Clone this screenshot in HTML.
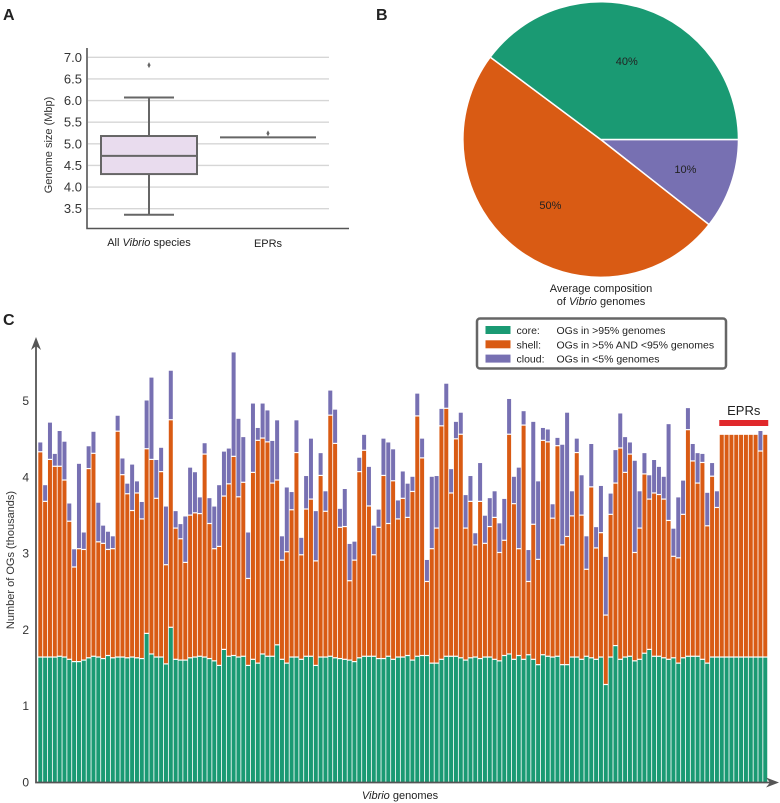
<!DOCTYPE html>
<html><head><meta charset="utf-8"><style>
html,body{margin:0;padding:0;background:#fff;}
svg{display:block;font-family:"Liberation Sans",Arial,sans-serif;}
</style></head><body>
<svg id="fig" width="780" height="803" viewBox="0 0 780 803" xmlns="http://www.w3.org/2000/svg">
<text x="3" y="20" font-size="16" font-weight="bold" fill="#222">A</text>
<text x="376" y="20" font-size="16" font-weight="bold" fill="#222">B</text>
<text x="3" y="325" font-size="16" font-weight="bold" fill="#222">C</text>
<g id="boxA"></g>
<g id="pieB"></g>
<g id="barC"></g>
</svg>
<script>
// ---------- Panel A data ----------
const boxCategories = ["All Vibrio species", "EPRs"];
const boxQ1 = [4.30, 5.15];
const boxMedian = [4.72, 5.15];
const boxQ3 = [5.18, 5.15];
const boxWhiskerLow = [3.36, 5.15];
const boxWhiskerHigh = [6.07, 5.15];
const boxOutliers = [[6.82], [5.24]];
const boxTicks = ["3.5","4.0","4.5","5.0","5.5","6.0","6.5","7.0"];

// ---------- Panel B data ----------
const pieLabels = ["cloud", "shell", "core"];
const pieValues = [10.6, 49.6, 39.8];
const pieText = ["10%", "50%", "40%"];

// ---------- Panel C data (thousands of OGs) ----------
const coreK = [1.63,1.63,1.63,1.63,1.64,1.63,1.60,1.57,1.57,1.59,
1.62,1.64,1.63,1.61,1.65,1.62,1.63,1.63,1.62,1.63,
1.62,1.61,1.94,1.67,1.63,1.63,1.54,2.02,1.60,1.59,
1.59,1.62,1.63,1.64,1.63,1.61,1.58,1.52,1.73,1.64,
1.65,1.63,1.64,1.52,1.60,1.55,1.67,1.64,1.64,1.79,
1.60,1.55,1.63,1.63,1.60,1.64,1.64,1.52,1.63,1.63,
1.64,1.62,1.61,1.60,1.59,1.57,1.62,1.64,1.64,1.64,
1.61,1.61,1.64,1.60,1.63,1.63,1.65,1.59,1.64,1.65,
1.65,1.55,1.55,1.60,1.64,1.64,1.64,1.62,1.59,1.62,
1.63,1.61,1.63,1.63,1.60,1.58,1.65,1.67,1.60,1.65,
1.60,1.66,1.60,1.53,1.66,1.64,1.63,1.64,1.53,1.53,
1.63,1.63,1.60,1.64,1.62,1.60,1.63,1.27,1.63,1.78,
1.60,1.63,1.64,1.58,1.60,1.68,1.73,1.64,1.64,1.62,
1.60,1.62,1.55,1.62,1.64,1.64,1.64,1.60,1.55,1.63,1.63,
1.63,1.63,1.63,1.63,1.63,1.63,1.63,1.63,1.63,1.63];
const coreShellK = [4.32,3.67,4.22,4.13,4.13,3.95,3.41,2.81,3.05,3.04,4.10,4.30,3.14,3.12,3.04,3.05,4.59,4.02,3.77,3.55,3.78,3.44,4.36,4.22,3.71,4.06,2.84,4.74,3.32,3.18,2.87,3.49,3.52,3.51,4.29,3.38,3.05,3.08,
3.74,3.90,4.26,3.73,3.92,2.66,4.05,4.47,4.50,4.45,3.91,3.95,2.90,3.01,3.56,4.31,2.97,3.57,3.70,2.89,4.01,3.54,4.80,4.43,3.33,3.34,2.63,2.90,4.06,4.34,3.61,2.97,3.33,4.01,3.38,3.94,3.44,3.71,
3.46,3.80,4.79,4.24,2.62,3.05,3.32,4.66,4.89,3.78,4.49,4.55,3.32,3.67,3.10,3.67,3.12,3.34,3.46,3.00,3.16,4.55,3.64,3.05,4.67,2.62,3.37,2.91,4.47,4.45,3.45,4.40,3.10,3.21,3.48,4.31,3.49,2.78,
3.86,3.06,3.26,2.18,3.50,3.91,4.37,4.05,4.29,3.00,3.32,4.03,3.70,3.78,3.76,3.70,3.42,2.95,2.93,3.50,4.61,4.20,3.91,4.18,3.35,4.00,3.59,
4.55,4.55,4.55,4.55,4.55,4.55,4.55,4.55,4.33,4.55];
const totalK = [4.45,3.89,4.71,4.30,4.60,4.46,3.65,3.05,4.17,3.27,4.40,4.59,3.66,3.36,3.28,3.22,4.80,4.24,3.91,4.16,3.94,3.67,5.00,5.30,4.22,4.38,3.61,5.39,3.55,3.38,3.48,4.12,4.06,3.73,4.44,3.72,3.61,3.89,
4.33,4.37,5.63,4.76,4.52,3.27,4.96,4.64,4.96,4.87,4.47,4.74,3.22,3.86,3.80,4.74,3.20,4.01,4.50,3.55,4.31,3.81,5.13,4.88,3.58,3.84,3.12,3.15,4.25,4.55,4.13,3.36,3.57,4.50,4.45,4.36,3.69,4.07,
3.91,4.00,5.09,4.50,2.91,4.00,4.01,4.89,5.22,4.10,4.72,4.84,3.76,4.01,3.26,4.18,3.49,3.72,3.81,3.39,3.71,5.02,4.00,4.12,4.86,3.04,4.72,3.94,4.64,4.62,3.64,4.51,4.42,4.84,3.81,4.50,4.02,3.22,
4.43,3.34,3.88,2.95,3.78,4.35,4.83,4.52,4.45,4.21,3.81,4.31,4.02,4.22,4.13,4.00,4.69,3.32,3.73,3.95,4.90,4.43,4.31,4.30,3.79,4.18,3.81,
4.55,4.55,4.55,4.55,4.55,4.55,4.55,4.55,4.60,4.55];
const eprCount = 10;
const yTicksC = ["0","1","2","3","4","5"];

const NS = "http://www.w3.org/2000/svg";
function mk(parent, tag, attrs, text){
  const e = document.createElementNS(NS, tag);
  for (const k in attrs) e.setAttribute(k, attrs[k]);
  if (text !== undefined) e.textContent = text;
  parent.appendChild(e);
  return e;
}
const GREEN="#1a9a73", ORANGE="#d95b14", PURPLE="#7770b2";

// ---------- Panel A ----------
(function(){
  const g = document.getElementById('boxA');
  const yA = v => 57.3 + (7.0 - v) * 43.25;
  boxTicks.forEach(t => {
    const v = parseFloat(t);
    const gl = mk(g,'line',{x1:88,x2:329,y1:yA(v),y2:yA(v),stroke:'#d6d6d6','stroke-width':1.3});
    
    
    const tl = mk(g,'text',{x:82,y:yA(v)+4.5,'font-size':13,'text-anchor':'end',fill:'#333'},t);
    
    
  });
  const ax = mk(g,'path',{d:'M87,48 V228.5 H349',fill:'none',stroke:'#555','stroke-width':1.6});
  
  
  const yt = mk(g,'text',{x:0,y:0,'font-size':11,'text-anchor':'middle',fill:'#333',transform:'translate(52,145) rotate(-90)'},'Genome size (Mbp)');
  
  
  const centers=[149,268];
  boxCategories.forEach((c,i)=>{
    const cx = centers[i];
    const grp = mk(g,'g',{});
    
    
    if (boxQ3[i] > boxQ1[i]) {
      mk(grp,'line',{x1:cx,x2:cx,y1:yA(boxWhiskerHigh[i]),y2:yA(boxQ3[i]),stroke:'#666','stroke-width':2});
      mk(grp,'line',{x1:cx,x2:cx,y1:yA(boxQ1[i]),y2:yA(boxWhiskerLow[i]),stroke:'#666','stroke-width':2});
      mk(grp,'line',{x1:cx-25,x2:cx+25,y1:yA(boxWhiskerHigh[i]),y2:yA(boxWhiskerHigh[i]),stroke:'#666','stroke-width':2});
      mk(grp,'line',{x1:cx-25,x2:cx+25,y1:yA(boxWhiskerLow[i]),y2:yA(boxWhiskerLow[i]),stroke:'#666','stroke-width':2});
      mk(grp,'rect',{x:cx-48,y:yA(boxQ3[i]),width:96,height:yA(boxQ1[i])-yA(boxQ3[i]),fill:'#e9dcee',stroke:'#666','stroke-width':2});
    }
    mk(grp,'line',{x1:cx-48,x2:cx+48,y1:yA(boxMedian[i]),y2:yA(boxMedian[i]),stroke:'#666','stroke-width':2});
    boxOutliers[i].forEach(o=>{
      const d = mk(grp,'path',{d:`M${cx},${yA(o)-3} L${cx+1.6},${yA(o)} L${cx},${yA(o)+3} L${cx-1.6},${yA(o)} Z`,fill:'#666'});
      
      
    });
  });
  const l1 = mk(g,'text',{x:149,y:246,'font-size':11,'text-anchor':'middle',fill:'#222'});
  
  
  mk(l1,'tspan',{},'All ');mk(l1,'tspan',{'font-style':'italic'},'Vibrio');mk(l1,'tspan',{},' species');
  const l2 = mk(g,'text',{x:268,y:247,'font-size':11,'text-anchor':'middle',fill:'#222'},'EPRs');
  
  
})();

// ---------- Panel B ----------
(function(){
  const g = document.getElementById('pieB');
  const cx=600.7, cy=139.5, r=137.8;
  const colors=[PURPLE,ORANGE,GREEN];
  const tot = pieValues.reduce((a,b)=>a+b,0);
  let a0 = 0;
  pieValues.forEach((v,i)=>{
    const a1 = a0 + v/tot*2*Math.PI;
    const large = (a1-a0)>Math.PI?1:0;
    const p = mk(g,'path',{d:`M${cx},${cy} L${cx+r*Math.cos(a0)},${cy+r*Math.sin(a0)} A${r},${r} 0 ${large} 1 ${cx+r*Math.cos(a1)},${cy+r*Math.sin(a1)} Z`,fill:colors[i],stroke:'#fff','stroke-width':1.5});
    
    
    const am=(a0+a1)/2, rr = i===0?0.65:0.6;
    const t = mk(g,'text',{x:cx+rr*r*Math.cos(am),y:cy+rr*r*Math.sin(am)+4,'font-size':11,'text-anchor':'middle',fill:'#222'},pieText[i]);
    
    
    a0=a1;
  });
  const c1 = mk(g,'text',{x:601,y:292,'font-size':11,'text-anchor':'middle',fill:'#222'},'Average composition');
  
  
  const c2 = mk(g,'text',{x:601,y:305,'font-size':11,'text-anchor':'middle',fill:'#222'});
  
  
  mk(c2,'tspan',{},'of ');mk(c2,'tspan',{'font-style':'italic'},'Vibrio');mk(c2,'tspan',{},' genomes');
})();

// ---------- Panel C ----------
(function(){
  const g = document.getElementById('barC');
  const y0=782, k=76.3;
  const yC = v => y0 - v*k;
  const xC = i => 38.3 + i*4.833;
  const bw = 4.0;
  yTicksC.forEach(t=>{
    const tl = mk(g,'text',{x:29,y:yC(parseFloat(t))+4.5,'font-size':12,'text-anchor':'end',fill:'#333'},t);
    
    
  });
  for (let i=0;i<totalK.length;i++){
    const x = xC(i);
    const c = mk(g,'rect',{x:x,y:yC(coreK[i]),width:bw,height:coreK[i]*k,fill:GREEN});
    
    
    const sh = coreShellK[i]-coreK[i];
    const s = mk(g,'rect',{x:x,y:yC(coreShellK[i]),width:bw,height:Math.max(0,sh*k-1.2),fill:ORANGE});
    
    
    const cl = totalK[i]-coreShellK[i];
    if (cl>0.005){
      const d = mk(g,'rect',{x:x,y:yC(totalK[i]),width:bw,height:Math.max(0,cl*k-1.2),fill:PURPLE});
      
      
    }
  }
  const ax = mk(g,'path',{d:'M36,344 V782.5 H772',fill:'none',stroke:'#555','stroke-width':1.8});
  
  
  const a1 = mk(g,'path',{d:'M36,337 L31,350 L36,346 L41,350 Z',fill:'#555'});
  
  
  const a2 = mk(g,'path',{d:'M779,782.5 L766,777.5 L770,782.5 L766,787.5 Z',fill:'#555'});
  
  
  const yt = mk(g,'text',{x:0,y:0,'font-size':11,'text-anchor':'middle',fill:'#333',transform:'translate(14,560) rotate(-90)'},'Number of OGs (thousands)');
  
  
  const xt = mk(g,'text',{x:400,y:799,'font-size':11,'text-anchor':'middle',fill:'#222'});
  
  
  mk(xt,'tspan',{'font-style':'italic'},'Vibrio');mk(xt,'tspan',{},' genomes');
  const n = totalK.length;
  const ex0 = xC(n-eprCount)-0.5, ex1 = xC(n-1)+bw+1;
  const eb = mk(g,'rect',{x:ex0,y:420,width:ex1-ex0,height:6,fill:'#e0282b'});
  
  
  const et = mk(g,'text',{x:(ex0+ex1)/2,y:415,'font-size':13,'text-anchor':'middle',fill:'#222'},'EPRs');
  
  
  const lg = mk(g,'g',{});
  
  
  mk(lg,'rect',{x:477,y:318.5,width:249,height:50,rx:3,fill:'#fff',stroke:'#666','stroke-width':2.5});
  const items=[["core:","OGs in >95% genomes",GREEN],["shell:","OGs in >5% AND <95% genomes",ORANGE],["cloud:","OGs in <5% genomes",PURPLE]];
  items.forEach((it,i)=>{
    const yy = 330 + i*14.3;
    const e = mk(lg,'g',{});
    
    
    mk(e,'rect',{x:485.5,y:yy-4,width:25,height:8,fill:it[2]});
    mk(e,'text',{x:516.5,y:yy+4,'font-size':10.5,fill:'#222'},it[0]);
    mk(e,'text',{x:556.5,y:yy+4,'font-size':10.5,fill:'#222'},it[1]);
  });
})();
</script>
</body></html>
